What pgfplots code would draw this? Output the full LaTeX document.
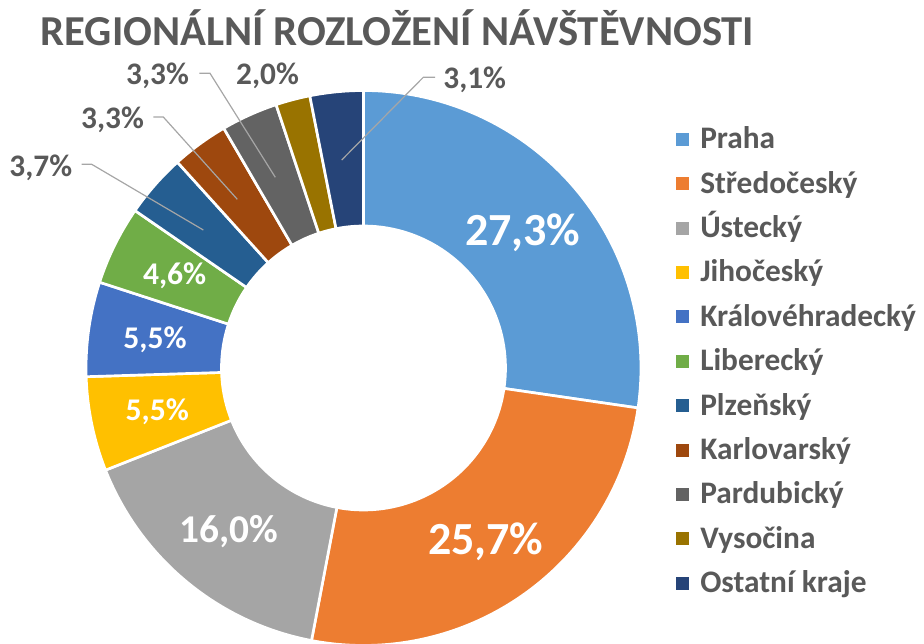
\documentclass[border=0pt]{standalone}
\usepackage{pgfplots}
\pgfplotsset{compat=1.18}
\usepackage{fontspec}
\setmainfont{Carlito}
\usetikzlibrary{calc}
\definecolor{cPraha}{HTML}{5B9BD5}
\definecolor{cStred}{HTML}{ED7D31}
\definecolor{cUst}{HTML}{A5A5A5}
\definecolor{cJih}{HTML}{FFC000}
\definecolor{cKH}{HTML}{4472C4}
\definecolor{cLib}{HTML}{70AD47}
\definecolor{cPlz}{HTML}{255E91}
\definecolor{cKV}{HTML}{9E480E}
\definecolor{cPard}{HTML}{636363}
\definecolor{cVys}{HTML}{997300}
\definecolor{cOst}{HTML}{264478}
\definecolor{txt}{HTML}{595959}
\definecolor{lead}{HTML}{A6A6A6}
% donut geometry (1 px = 0.75pt)
\def\Ro{208.1pt}
\def\Ri{106.5pt}
\def\Rd{101.6pt}
\def\Rm{158pt}
\def\cx{363.5}
\def\cy{275}
% #1 start (cumulative %), #2 value (%), #3 colour
\newcommand\slice[3]{%
  \fill[#3, draw=white, line width=2pt, line join=miter]
    (axis cs:\cx,\cy) ++({90-3.6*#1}:\Ro)
    arc[start angle={90-3.6*#1}, end angle={90-3.6*(#1+#2)}, radius=\Ro]
    -- ++({270-3.6*(#1+#2)}:\Rd)
    arc[start angle={90-3.6*(#1+#2)}, end angle={90-3.6*#1}, radius=\Ri]
    -- cycle;}
% #1 start, #2 value, #3 style, #4 text
\newcommand\inlabel[4]{%
  \node[#3] at ($(axis cs:\cx,\cy)+({90-3.6*(#1+#2/2)}:\Rm)$) {#4};}
\newcommand\legentry[3]{%
  \fill[#2] (axis cs:676,{643-#1-6.5}) rectangle (axis cs:689,{643-#1+6.5});
  \node[legtext] at (axis cs:700,{643-#1}) {#3};}
\tikzset{
  big/.style={font=\fontsize{34.5}{38}\selectfont\bfseries, text=white, inner sep=0pt, text height=22.5pt, text depth=0pt},
  small/.style={font=\fontsize{23.7}{26}\selectfont\bfseries, text=white, inner sep=0pt, text height=15pt, text depth=0pt},
  outer/.style={font=\fontsize{23.5}{26}\selectfont\bfseries, text=txt, inner sep=0pt, text height=14pt, text depth=0pt},
  legtext/.style={font=\fontsize{23.5}{26}\selectfont\bfseries, text=txt, inner sep=0pt, text height=14pt, text depth=0pt, anchor=west},
}
\begin{document}
\begin{tikzpicture}
\begin{axis}[name=ax, x=0.75pt, y=0.75pt, xmin=0, xmax=924, ymin=0, ymax=643,
  scale only axis, hide axis, clip=false]
% slices: start, value
\slice{0}{27.3}{cPraha}
\slice{27.3}{25.7}{cStred}
\slice{53.0}{16.0}{cUst}
\slice{69.0}{5.5}{cJih}
\slice{74.5}{5.5}{cKH}
\slice{80.0}{4.6}{cLib}
\slice{84.6}{3.7}{cPlz}
\slice{88.3}{3.3}{cKV}
\slice{91.6}{3.3}{cPard}
\slice{94.9}{2.0}{cVys}
\slice{96.9}{3.1}{cOst}
% inner labels
\inlabel{0}{27.3}{big}{27,3\%}
\inlabel{27.3}{25.7}{big}{25,7\%}
\inlabel{53.0}{16.0}{small, font=\fontsize{29.5}{32}\selectfont\bfseries, text height=19pt}{16,0\%}
\inlabel{69.0}{5.5}{small}{5,5\%}
\inlabel{74.5}{5.5}{small}{5,5\%}
\inlabel{80.0}{4.6}{small}{4,6\%}
% leader lines
\draw[lead, line width=0.9pt] (axis cs:81.7,478.7) -- (axis cs:91.7,478.7) -- (axis cs:203.3,413);
\draw[lead, line width=0.9pt] (axis cs:153.3,526) -- (axis cs:163.3,526) -- (axis cs:237.3,443.7);
\draw[lead, line width=0.9pt] (axis cs:199.3,569.7) -- (axis cs:210,569.7) -- (axis cs:275.3,465.7);
\draw[lead, line width=0.9pt] (axis cs:435,565.7) -- (axis cs:423.3,565.7) -- (axis cs:341.7,483);
% outer labels
\node[outer] at (axis cs:40.8,476.3) {3,7\%};
\node[outer] at (axis cs:112.5,523.8) {3,3\%};
\node[outer] at (axis cs:157.5,568) {3,3\%};
\node[outer] at (axis cs:267.5,568) {2,0\%};
\node[outer] at (axis cs:474.7,563.8) {3,1\%};
% title
\node[font=\fontsize{32}{35}\selectfont\bfseries, text=txt, inner sep=0pt, text height=19.5pt, text depth=0pt]
  at (axis cs:397.4,610.5) {REGIONÁLNÍ ROZLOŽENÍ NÁVŠTĚVNOSTI};
% legend
\legentry{139.3}{cPraha}{Praha}
\legentry{183.7}{cStred}{Středočeský}
\legentry{228.1}{cUst}{Ústecký}
\legentry{272.5}{cJih}{Jihočeský}
\legentry{316.9}{cKH}{Královéhradecký}
\legentry{361.3}{cLib}{Liberecký}
\legentry{405.7}{cPlz}{Plzeňský}
\legentry{450.1}{cKV}{Karlovarský}
\legentry{494.5}{cPard}{Pardubický}
\legentry{538.9}{cVys}{Vysočina}
\legentry{583.3}{cOst}{Ostatní kraje}
\end{axis}
\pgfresetboundingbox
\path (ax.south west) rectangle (ax.north east);
\end{tikzpicture}
\end{document}
